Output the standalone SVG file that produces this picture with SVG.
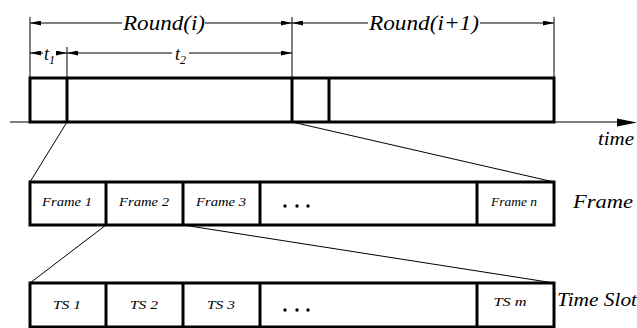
<svg xmlns="http://www.w3.org/2000/svg" width="637" height="328" viewBox="0 0 637 328">
  <style>
    .bar { fill: #fff; stroke: #000; stroke-width: 3; }
    .div { stroke: #000; stroke-width: 3; }
    .thin { stroke: #000; stroke-width: 1; fill: none; }
    text { font-family: "Liberation Serif", "Times New Roman", "DejaVu Serif", serif; font-style: italic; fill: #000; }
  </style>
  <defs>
    <marker id="dimArrow" viewBox="0 0 11 5" refX="11" refY="2.5" markerWidth="11" markerHeight="5" markerUnits="userSpaceOnUse" orient="auto">
      <path d="M0,0 L11,2.5 L0,5 Z" fill="#000"/>
    </marker>
  </defs>

  <!-- dimension lines above the timeline -->
  <g id="dimensions">
    <line class="thin" x1="30" y1="17" x2="30" y2="78"/>
    <line class="thin" x1="292" y1="17" x2="292" y2="78"/>
    <line class="thin" x1="554" y1="17" x2="554" y2="78"/>
    <line class="thin" x1="67" y1="47" x2="67" y2="78"/>

    <line class="thin" x1="122" y1="23" x2="30" y2="23" marker-end="url(#dimArrow)"/>
    <line class="thin" x1="205" y1="23" x2="292" y2="23" marker-end="url(#dimArrow)"/>
    <text x="164" y="30" font-size="22" text-anchor="middle" textLength="82" lengthAdjust="spacingAndGlyphs">Round(i)</text>

    <line class="thin" x1="368" y1="23" x2="292" y2="23" marker-end="url(#dimArrow)"/>
    <line class="thin" x1="480" y1="23" x2="554" y2="23" marker-end="url(#dimArrow)"/>
    <text x="424" y="30" font-size="22" text-anchor="middle" textLength="110" lengthAdjust="spacingAndGlyphs">Round(i+1)</text>

    <line class="thin" x1="43" y1="53" x2="30" y2="53" marker-end="url(#dimArrow)"/>
    <line class="thin" x1="56" y1="53" x2="67" y2="53" marker-end="url(#dimArrow)"/>
    <text x="44" y="60" font-size="18">t<tspan font-size="12" dy="4">1</tspan></text>

    <line class="thin" x1="172" y1="53" x2="67" y2="53" marker-end="url(#dimArrow)"/>
    <line class="thin" x1="189" y1="53" x2="292" y2="53" marker-end="url(#dimArrow)"/>
    <text x="175" y="60" font-size="18">t<tspan font-size="12" dy="4">2</tspan></text>
  </g>

  <!-- time axis -->
  <g id="axis">
    <line class="thin" x1="10" y1="122" x2="620" y2="122"/>
    <path d="M617,118.5 L637,122.5 L617,126.5 Z" fill="#000"/>
    <text x="616" y="145" font-size="19" text-anchor="middle" textLength="36" lengthAdjust="spacingAndGlyphs">time</text>
  </g>

  <!-- round bar -->
  <g id="rounds">
    <rect class="bar" x="30" y="78" width="524" height="44"/>
    <line class="div" x1="67" y1="78" x2="67" y2="122"/>
    <line class="div" x1="292" y1="78" x2="292" y2="122"/>
    <line class="div" x1="329" y1="78" x2="329" y2="122"/>
  </g>

  <!-- zoom connectors -->
  <g id="connectors">
    <line class="thin" x1="67" y1="122" x2="30" y2="182"/>
    <line class="thin" x1="292" y1="122" x2="554" y2="182"/>
    <line class="thin" x1="106" y1="225" x2="30" y2="283"/>
    <line class="thin" x1="183" y1="225" x2="554" y2="283"/>
  </g>

  <!-- frame bar -->
  <g id="frames">
    <rect class="bar" x="30" y="182" width="524" height="43"/>
    <line class="div" x1="106" y1="182" x2="106" y2="225"/>
    <line class="div" x1="183" y1="182" x2="183" y2="225"/>
    <line class="div" x1="260" y1="182" x2="260" y2="225"/>
    <line class="div" x1="477" y1="182" x2="477" y2="225"/>
    <text x="67" y="206" font-size="13" text-anchor="middle" textLength="50" lengthAdjust="spacingAndGlyphs">Frame 1</text>
    <text x="144" y="206" font-size="13" text-anchor="middle" textLength="50" lengthAdjust="spacingAndGlyphs">Frame 2</text>
    <text x="221" y="206" font-size="13" text-anchor="middle" textLength="50" lengthAdjust="spacingAndGlyphs">Frame 3</text>
    <circle cx="285" cy="206" r="1.7"/>
    <circle cx="297" cy="206" r="1.7"/>
    <circle cx="308" cy="206" r="1.7"/>
    <text x="514" y="206" font-size="11.5" text-anchor="middle" textLength="46" lengthAdjust="spacingAndGlyphs">Frame n</text>
    <text x="603" y="208" font-size="18" text-anchor="middle" textLength="60" lengthAdjust="spacingAndGlyphs">Frame</text>
  </g>

  <!-- time slot bar -->
  <g id="slots">
    <rect class="bar" x="30" y="283" width="524" height="44"/>
    <line class="div" x1="106" y1="283" x2="106" y2="327"/>
    <line class="div" x1="183" y1="283" x2="183" y2="327"/>
    <line class="div" x1="260" y1="283" x2="260" y2="327"/>
    <line class="div" x1="477" y1="283" x2="477" y2="327"/>
    <text x="67" y="309" font-size="13" text-anchor="middle" textLength="28" lengthAdjust="spacingAndGlyphs">TS 1</text>
    <text x="144" y="309" font-size="13" text-anchor="middle" textLength="28" lengthAdjust="spacingAndGlyphs">TS 2</text>
    <text x="221" y="309" font-size="13" text-anchor="middle" textLength="28" lengthAdjust="spacingAndGlyphs">TS 3</text>
    <circle cx="285" cy="310" r="1.7"/>
    <circle cx="297" cy="310" r="1.7"/>
    <circle cx="308" cy="310" r="1.7"/>
    <text x="510" y="306" font-size="11.5" text-anchor="middle" textLength="33" lengthAdjust="spacingAndGlyphs">TS m</text>
    <text x="597" y="306" font-size="19" text-anchor="middle" textLength="80" lengthAdjust="spacingAndGlyphs">Time Slot</text>
  </g>
</svg>
